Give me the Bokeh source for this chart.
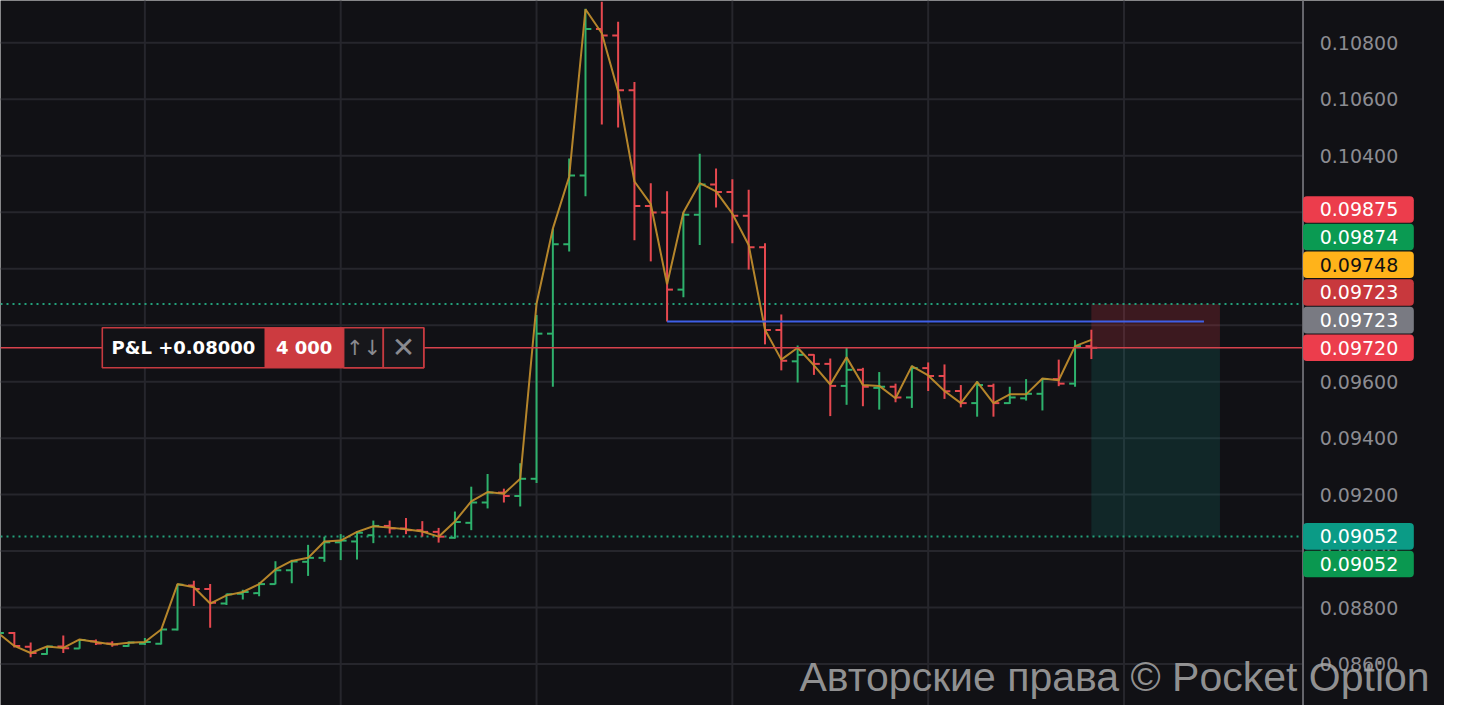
from bokeh.plotting import figure
from bokeh.models import Range1d
from bokeh.core.properties import value
from bokeh.embed import file_html
from bokeh.resources import INLINE

# ---------------- data ----------------
bar_index = list(range(-1, 67))
opens = [0.08692, 0.08710, 0.08661, 0.08635, 0.08662, 0.08655, 0.08681, 0.08673, 0.08664, 0.08672,
         0.08672, 0.08722, 0.08878, 0.08866, 0.08814, 0.08849, 0.08851, 0.08883, 0.08932, 0.08962,
         0.08976, 0.09031, 0.09034, 0.09056, 0.09089, 0.09080, 0.09074, 0.09068, 0.09047, 0.09100,
         0.09172, 0.09207, 0.09195, 0.09256, 0.09770, 0.10087, 0.10330, 0.10849, 0.10826, 0.10632,
         0.10222, 0.10199, 0.09926, 0.10191, 0.10298, 0.10272, 0.10188, 0.10076, 0.09783, 0.09672,
         0.09695, 0.09663, 0.09585, 0.09642, 0.09578, 0.09582, 0.09544, 0.09648, 0.09620, 0.09567,
         0.09524, 0.09585, 0.09524, 0.09541, 0.09557, 0.09609, 0.09593, 0.09726]
highs = [0.08723, 0.08713, 0.08676, 0.08664, 0.08701, 0.08685, 0.08687, 0.08681, 0.08680, 0.08692,
         0.08722, 0.08883, 0.08895, 0.08883, 0.08849, 0.08863, 0.08889, 0.08964, 0.08969, 0.09022,
         0.09051, 0.09060, 0.09070, 0.09108, 0.09108, 0.09117, 0.09106, 0.09082, 0.09140, 0.09228,
         0.09273, 0.09221, 0.09311, 0.09836, 0.10142, 0.10390, 0.10921, 0.10946, 0.10875, 0.10661,
         0.10303, 0.10274, 0.10199, 0.10407, 0.10355, 0.10317, 0.10280, 0.10090, 0.09838, 0.09728,
         0.09697, 0.09682, 0.09720, 0.09649, 0.09634, 0.09593, 0.09657, 0.09668, 0.09661, 0.09588,
         0.09602, 0.09593, 0.09582, 0.09609, 0.09611, 0.09678, 0.09747, 0.09784]
lows = [0.08681, 0.08658, 0.08624, 0.08633, 0.08639, 0.08654, 0.08667, 0.08661, 0.08661, 0.08667,
        0.08669, 0.08719, 0.08805, 0.08728, 0.08809, 0.08828, 0.08840, 0.08882, 0.08886, 0.08912,
        0.08962, 0.08968, 0.08970, 0.09028, 0.09062, 0.09060, 0.09051, 0.09030, 0.09044, 0.09074,
        0.09151, 0.09172, 0.09158, 0.09241, 0.09582, 0.10061, 0.10257, 0.10511, 0.10500, 0.10101,
        0.10026, 0.09813, 0.09899, 0.10084, 0.10217, 0.10090, 0.09997, 0.09732, 0.09640, 0.09597,
        0.09624, 0.09478, 0.09518, 0.09513, 0.09501, 0.09527, 0.09507, 0.09567, 0.09539, 0.09509,
        0.09476, 0.09476, 0.09521, 0.09533, 0.09498, 0.09584, 0.09582, 0.09680]
closes = [0.08710, 0.08664, 0.08639, 0.08662, 0.08656, 0.08685, 0.08673, 0.08669, 0.08676, 0.08678,
          0.08722, 0.08881, 0.08866, 0.08817, 0.08847, 0.08855, 0.08883, 0.08932, 0.08963, 0.08976,
          0.09031, 0.09037, 0.09065, 0.09089, 0.09080, 0.09074, 0.09068, 0.09051, 0.09103, 0.09172,
          0.09207, 0.09195, 0.09256, 0.09770, 0.10087, 0.10330, 0.10849, 0.10826, 0.10632, 0.10222,
          0.10199, 0.09926, 0.10191, 0.10298, 0.10272, 0.10188, 0.10076, 0.09783, 0.09674, 0.09695,
          0.09663, 0.09585, 0.09642, 0.09582, 0.09582, 0.09544, 0.09648, 0.09620, 0.09566, 0.09524,
          0.09588, 0.09524, 0.09544, 0.09557, 0.09609, 0.09593, 0.09726, 0.09720]
trend_line = [0.08710, 0.08664, 0.08639, 0.08662, 0.08657, 0.08687, 0.08678, 0.08669, 0.08675, 0.08678,
              0.08722, 0.08883, 0.08872, 0.08814, 0.08843, 0.08855, 0.08883, 0.08935, 0.08965, 0.08976,
              0.09034, 0.09037, 0.09068, 0.09088, 0.09083, 0.09077, 0.09069, 0.09051, 0.09105, 0.09176,
              0.09209, 0.09203, 0.09256, 0.09876, 0.10142, 0.10326, 0.10919, 0.10834, 0.10628, 0.10309,
              0.10229, 0.09945, 0.10199, 0.10303, 0.10274, 0.10195, 0.10084, 0.09784, 0.09678, 0.09720,
              0.09658, 0.09590, 0.09686, 0.09588, 0.09585, 0.09541, 0.09655, 0.09622, 0.09567, 0.09524,
              0.09599, 0.09524, 0.09555, 0.09555, 0.09611, 0.09605, 0.09726, 0.09748]

price_ticks = [0.086, 0.088, 0.090, 0.092, 0.094, 0.096, 0.098, 0.100, 0.102, 0.104, 0.106, 0.108]
grid_bars = [8, 20, 32, 44, 56, 68]

current_price = 0.09720
stop_level = 0.09875
take_level = 0.09052
order_bar = 40          # blue order line starts at this bar's low
order_end_bar = 72.9
zone_start_bar = 66
zone_end_bar = 73.88

tags_upper = ["0.09875", "0.09874", "0.09748", "0.09723", "0.09723", "0.09720"]
tags_upper_fill = ["#ec3d4c", "#0a9a52", "#ffb31a", "#c8383d", "#797a82", "#ec3d4c"]
tags_upper_text = ["#ffffff", "#ffffff", "#111111", "#ffffff", "#ffffff", "#ffffff"]
tags_lower = ["0.09052", "0.09052"]
tags_lower_fill = ["#0b9b86", "#0a9850"]
tags_lower_text = ["#ffffff", "#ffffff"]

pnl_text = "P&L +0.08000"
amount_text = "4 000"
watermark = "Авторские права © Pocket Option"

# ---------------- layout / style ----------------
BG = "#111115"
GRID = "#26262c"
UP = "#2eb16c"
DOWN = "#e6484f"
X_MIN, X_MAX = -0.848, 87.64
Y_MIN, Y_MAX = 0.08453, 0.10950
CHART_RIGHT = 78.97
TAG_RIGHT = 85.76
TAG_TEXT_X = 82.4
TAG_PITCH = 0.00098
TAG_H = 0.00094
TICK_W = 0.36
BOX_EDGES = [5.39, 15.33, 20.18, 22.61, 25.09]
BOX_HALF = 0.00071
WM_X, WM_Y = 86.73, 0.08553

p = figure(width=1444, height=705, output_backend="svg", toolbar_location=None,
           x_range=Range1d(X_MIN, X_MAX), y_range=Range1d(Y_MIN, Y_MAX),
           x_axis_location=None, y_axis_location=None, min_border=0,
           background_fill_color=BG, border_fill_color=BG, outline_line_color=None)
p.grid.visible = False

# grid
p.segment(x0=grid_bars, x1=grid_bars, y0=[Y_MIN] * len(grid_bars), y1=[Y_MAX] * len(grid_bars),
          line_color=GRID, line_width=2)
p.segment(x0=[X_MIN] * len(price_ticks), x1=[CHART_RIGHT] * len(price_ticks), y0=price_ticks,
          y1=price_ticks, line_color=GRID, line_width=2)

# position zones
p.quad(left=[zone_start_bar], right=[zone_end_bar], bottom=[current_price], top=[stop_level],
       fill_color="#c0323e", fill_alpha=0.25, line_color=None)
p.quad(left=[zone_start_bar], right=[zone_end_bar], bottom=[take_level], top=[current_price],
       fill_color="#148278", fill_alpha=0.2, line_color=None)

# dotted levels
for lvl in (stop_level, take_level):
    p.line(x=[X_MIN, CHART_RIGHT], y=[lvl, lvl], line_color="#23a07a", line_width=2,
           line_dash="2 4")

# OHLC bars
colors = [UP if c >= o else DOWN for o, c in zip(opens, closes)]
p.segment(x0=bar_index, x1=bar_index, y0=lows, y1=highs, line_color=colors, line_width=2)
p.segment(x0=[i - TICK_W for i in bar_index], x1=bar_index, y0=opens, y1=opens,
          line_color=colors, line_width=2)
p.segment(x0=bar_index, x1=[i + TICK_W for i in bar_index], y0=closes, y1=closes,
          line_color=colors, line_width=2)

# trend line
p.line(x=bar_index, y=trend_line, line_color="#bf8c2c", line_width=2, line_alpha=0.95)

# order line
order_level = lows[bar_index.index(order_bar)]
p.line(x=[order_bar, order_end_bar], y=[order_level, order_level], line_color="#3e5fe6",
       line_width=2)

# current price line
p.line(x=[X_MIN, CHART_RIGHT], y=[current_price, current_price], line_color="#d8424c",
       line_width=1.6)

# P&L box
b0, b1, b2, b3, b4 = BOX_EDGES
yb, yt = current_price - BOX_HALF, current_price + BOX_HALF
p.quad(left=[b0], right=[b4], bottom=[yb], top=[yt], fill_color="#121216",
       line_color="#c63a40", line_width=1.6)
p.quad(left=[b1], right=[b2], bottom=[yb], top=[yt], fill_color="#cc3b40", line_color=None)
p.quad(left=[b2, b3], right=[b3, b4], bottom=[yb, yb], top=[yt, yt], fill_color="#17171b",
       line_color="#c63a40", line_width=1.6)
p.text(x=[(b0 + b1) / 2], y=[current_price], text=[pnl_text], text_color="#ffffff",
       text_font=value("DejaVu Sans"), text_font_style="bold", text_font_size="18px",
       text_align="center", text_baseline="middle")
p.text(x=[(b1 + b2) / 2], y=[current_price], text=[amount_text], text_color="#ffffff",
       text_font=value("DejaVu Sans"), text_font_style="bold", text_font_size="18px",
       text_align="center", text_baseline="middle")
p.text(x=[(b2 + b3) / 2], y=[current_price], text=["↑↓"], text_color="#8a8a90",
       text_font=value("DejaVu Sans"), text_font_size="21px",
       text_align="center", text_baseline="middle")
p.text(x=[(b3 + b4) / 2], y=[current_price], text=["✕"], text_color="#8a8a90",
       text_font=value("DejaVu Sans"), text_font_size="28px",
       text_align="center", text_baseline="middle")

# price axis
p.segment(x0=[CHART_RIGHT], x1=[CHART_RIGHT], y0=[Y_MIN], y1=[Y_MAX], line_color="#66666c",
          line_width=2)
p.text(x=[TAG_TEXT_X] * len(price_ticks), y=price_ticks, text=[f"{v:.5f}" for v in price_ticks],
       text_color="#8c8c92", text_font=value("DejaVu Sans"), text_font_size="19px",
       text_align="center", text_baseline="middle")

# price tags (stacked)
n_up = len(tags_upper)
up_y = [current_price + (n_up - 1 - k) * TAG_PITCH for k in range(n_up)]
low_y = [take_level - k * TAG_PITCH for k in range(len(tags_lower))]
tag_y = up_y + low_y
tag_txt = tags_upper + tags_lower
tag_fill = tags_upper_fill + tags_lower_fill
tag_tc = tags_upper_text + tags_lower_text
p.quad(left=[CHART_RIGHT] * len(tag_y), right=[TAG_RIGHT] * len(tag_y),
       bottom=[y - TAG_H / 2 for y in tag_y], top=[y + TAG_H / 2 for y in tag_y],
       fill_color=tag_fill, line_color=None, border_radius=4)
p.text(x=[TAG_TEXT_X] * len(tag_y), y=tag_y, text=tag_txt, text_color=tag_tc,
       text_font=value("DejaVu Sans"), text_font_size="19px",
       text_align="center", text_baseline="middle")

# watermark
p.text(x=[WM_X], y=[WM_Y], text=[watermark], text_color="#a8a8a8", text_alpha=0.85,
       text_font=value("Liberation Sans"), text_font_size="41px",
       text_align="right", text_baseline="alphabetic")

open("out.html", "w").write(file_html(p, INLINE))
